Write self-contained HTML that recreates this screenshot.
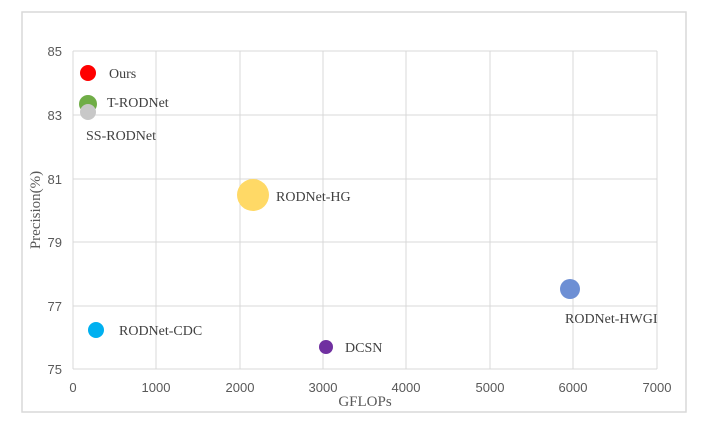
<!DOCTYPE html>
<html><head><style>body{margin:0;background:#fff}svg{display:block}</style></head><body>
<svg width="709" height="428" xmlns="http://www.w3.org/2000/svg" font-family="Liberation Sans, sans-serif">
<rect x="22" y="12" width="664" height="400" fill="#fff" stroke="#d9d9d9" stroke-width="1.5"/>
<g stroke="#d9d9d9" stroke-width="1">
<line x1="73" y1="51" x2="657" y2="51"/><line x1="73" y1="115" x2="657" y2="115"/><line x1="73" y1="179" x2="657" y2="179"/><line x1="73" y1="242" x2="657" y2="242"/><line x1="73" y1="306" x2="657" y2="306"/><line x1="73" y1="369" x2="657" y2="369"/>
<line x1="73" y1="51" x2="73" y2="369"/><line x1="156" y1="51" x2="156" y2="369"/><line x1="240" y1="51" x2="240" y2="369"/><line x1="323" y1="51" x2="323" y2="369"/><line x1="406" y1="51" x2="406" y2="369"/><line x1="490" y1="51" x2="490" y2="369"/><line x1="573" y1="51" x2="573" y2="369"/><line x1="657" y1="51" x2="657" y2="369"/>
</g>
<g font-size="13" fill="#595959" text-anchor="end">
<text x="62" y="56">85</text><text x="62" y="120">83</text><text x="62" y="184">81</text><text x="62" y="247">79</text><text x="62" y="311">77</text><text x="62" y="374">75</text>
</g>
<g font-size="13" fill="#595959" text-anchor="middle">
<text x="73" y="392">0</text><text x="156" y="392">1000</text><text x="240" y="392">2000</text><text x="323" y="392">3000</text><text x="406" y="392">4000</text><text x="490" y="392">5000</text><text x="573" y="392">6000</text><text x="657" y="392">7000</text>
</g>
<text x="365" y="406" font-family="Liberation Serif, serif" font-size="15" fill="#595959" text-anchor="middle">GFLOPs</text>
<text transform="translate(40,210) rotate(-90)" font-family="Liberation Serif, serif" font-size="15" fill="#595959" text-anchor="middle">Precision(%)</text>
<circle cx="253" cy="195" r="16" fill="#ffd966"/>
<circle cx="88" cy="73" r="8" fill="#ff0000"/>
<circle cx="88" cy="104" r="9" fill="#70ad47"/>
<circle cx="88" cy="112" r="8" fill="#c8c8c8"/>
<circle cx="570" cy="289" r="10" fill="#6d8fd4"/>
<circle cx="96" cy="330" r="8" fill="#00b0f0"/>
<circle cx="326" cy="347" r="7" fill="#7030a0"/>
<g font-family="Liberation Serif, serif" font-size="14" fill="#404040">
<text x="109" y="78">Ours</text>
<text x="107" y="107">T-RODNet</text>
<text x="86" y="140">SS-RODNet</text>
<text x="276" y="201">RODNet-HG</text>
<text x="565" y="323">RODNet-HWGI</text>
<text x="119" y="335">RODNet-CDC</text>
<text x="345" y="352">DCSN</text>
</g>
</svg>
</body></html>
